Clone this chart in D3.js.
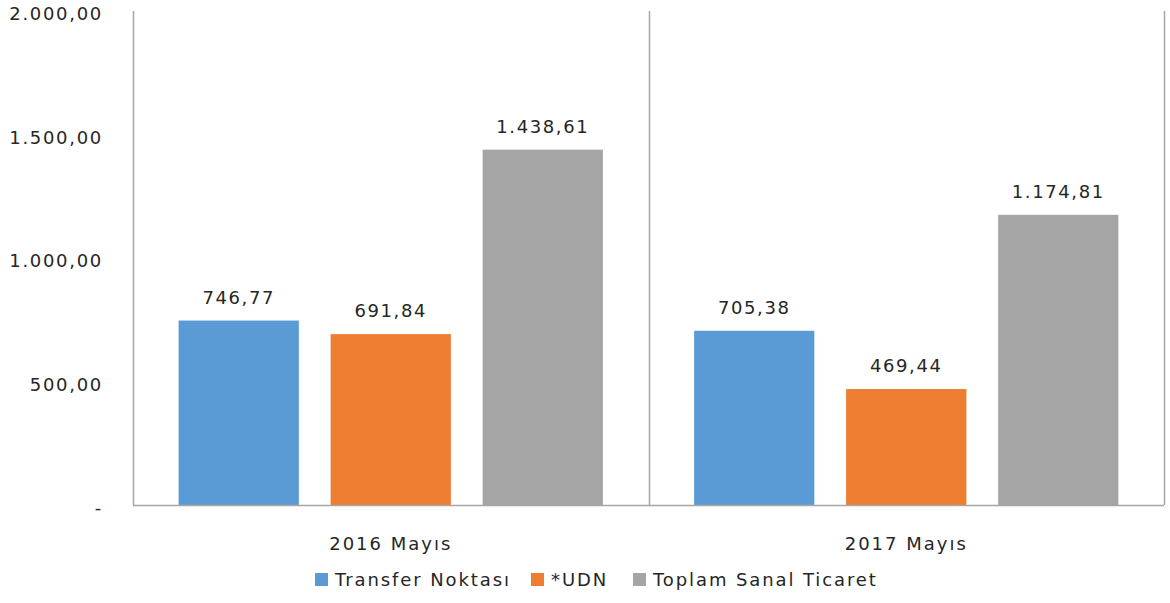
<!DOCTYPE html>
<html>
<head>
<meta charset="utf-8">
<script src="https://cdn.jsdelivr.net/npm/d3@7"></script>
<style>
  body { margin: 0; background: #fff; }
  text { font-family: "DejaVu Sans", sans-serif; fill: #262626; font-size: 18px; }
</style>
</head>
<body>
<div id="chart"></div>
<script>
// chart data
var categories = ['2016 Mayıs', '2017 Mayıs'];
var seriesNames = ['Transfer Noktası', '*UDN', 'Toplam Sanal Ticaret'];
var transferValues = [746.77, 705.38];
var udnValues = [691.84, 469.44];
var totalValues = [1438.61, 1174.81];
var yTicks = [0, 500, 1000, 1500, 2000];

var colors = ['#5b9bd5', '#ed7d31', '#a5a5a5'];

var svgWidth = 1170;
var svgHeight = 603;
var margin = { top: 11, right: 6, bottom: 98, left: 133 };
var chartWidth = svgWidth - margin.left - margin.right;
var chartHeight = svgHeight - margin.top - margin.bottom;

// Turkish number format: 1.438,61
var trLocale = d3.formatLocale({ decimal: ',', thousands: '.', grouping: [3], currency: ['', ''] });
var fmt = trLocale.format(',.2f');
function tickFmt(v) { return v === 0 ? '-' : fmt(v); }

var rows = categories.map((c, i) => ({
  category: c,
  values: [transferValues[i], udnValues[i], totalValues[i]]
}));

var svg = d3.select('#chart').append('svg')
  .attr('width', svgWidth)
  .attr('height', svgHeight);

var chartGroup = svg.append('g')
  .attr('transform', `translate(${margin.left}, ${margin.top})`);

var x0 = d3.scaleBand()
  .domain(categories)
  .range([0, chartWidth])
  .paddingInner(0)
  .paddingOuter(0);

var x1 = d3.scaleBand()
  .domain(seriesNames)
  .range([0, x0.bandwidth()])
  .paddingInner(0.209)
  .paddingOuter(0.3);

var y = d3.scaleLinear()
  .domain([0, 2000])
  .range([chartHeight, 0]);

// y tick labels (no tick marks)
chartGroup.append('g')
  .selectAll('text')
  .data(yTicks)
  .enter()
  .append('text')
  .attr('x', -30)
  .attr('y', d => y(d) + 3)
  .attr('dy', '0.35em')
  .attr('text-anchor', 'end')
  .style('letter-spacing', '1.7px')
  .text(tickFmt);

// bars
var groups = chartGroup.selectAll('.cat')
  .data(rows)
  .enter()
  .append('g')
  .attr('class', 'cat')
  .attr('transform', d => `translate(${x0(d.category)},0)`);

groups.selectAll('rect')
  .data(d => d.values.map((v, i) => ({ name: seriesNames[i], value: v, idx: i })))
  .enter()
  .append('rect')
  .attr('x', d => x1(d.name))
  .attr('y', d => y(d.value))
  .attr('width', x1.bandwidth())
  .attr('height', d => chartHeight - y(d.value))
  .attr('fill', d => colors[d.idx]);

groups.selectAll('.val')
  .data(d => d.values.map((v, i) => ({ name: seriesNames[i], value: v })))
  .enter()
  .append('text')
  .attr('class', 'val')
  .attr('x', d => x1(d.name) + x1.bandwidth() / 2)
  .attr('y', d => y(d.value) - 17)
  .attr('text-anchor', 'middle')
  .style('letter-spacing', '1.6px')
  .text(d => fmt(d.value));

// axis lines: left, separators, bottom
var lineColor = '#a6a6a6';
chartGroup.append('g')
  .selectAll('line')
  .data([0].concat(categories.map(c => x0(c) + x0.bandwidth())))
  .enter()
  .append('line')
  .attr('x1', d => Math.round(d) + 0.5)
  .attr('x2', d => Math.round(d) + 0.5)
  .attr('y1', 0)
  .attr('y2', chartHeight)
  .attr('stroke', lineColor)
  .attr('stroke-width', 1.5);

chartGroup.append('line')
  .attr('x1', 0)
  .attr('x2', chartWidth)
  .attr('y1', chartHeight + 0.5)
  .attr('y2', chartHeight + 0.5)
  .attr('stroke', lineColor)
  .attr('stroke-width', 1.5);

// category labels
chartGroup.append('g')
  .selectAll('text')
  .data(categories)
  .enter()
  .append('text')
  .attr('x', d => x0(d) + x0.bandwidth() / 2)
  .attr('y', chartHeight + 39)
  .attr('dy', '0.35em')
  .attr('text-anchor', 'middle')
  .style('letter-spacing', '2px')
  .text(d => d);

// legend
var legendX = [315, 531, 633];
var legend = svg.append('g')
  .attr('transform', 'translate(0, 580)');

var items = legend.selectAll('g')
  .data(seriesNames)
  .enter()
  .append('g')
  .attr('transform', (d, i) => `translate(${legendX[i]},0)`);

items.append('rect')
  .attr('x', 0)
  .attr('y', -7)
  .attr('width', 13)
  .attr('height', 13)
  .attr('fill', (d, i) => colors[i]);

items.append('text')
  .attr('x', 20)
  .attr('y', 0)
  .attr('dy', '0.35em')
  .style('letter-spacing', '1.9px')
  .text(d => d);
</script>
</body>
</html>
